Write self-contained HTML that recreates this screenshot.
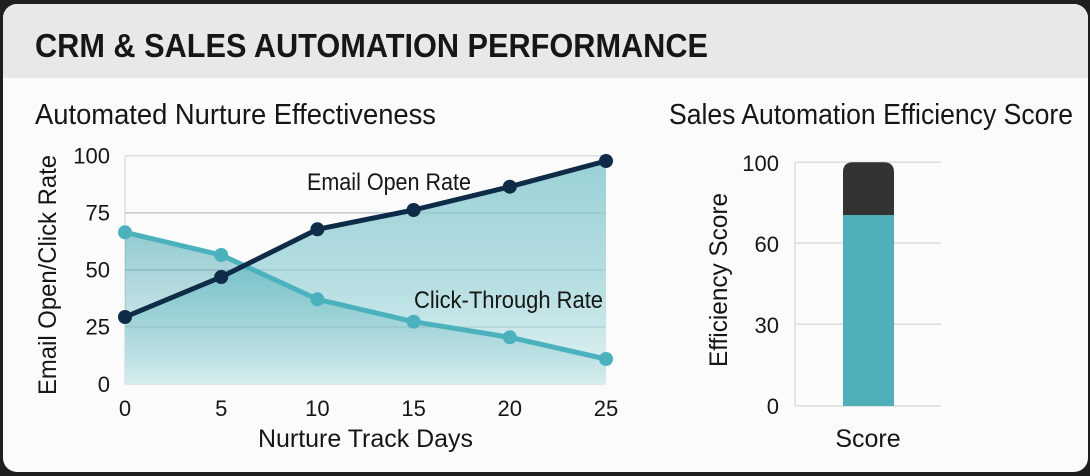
<!DOCTYPE html>
<html>
<head>
<meta charset="utf-8">
<style>
  html,body{margin:0;padding:0;background:#1f1f1f;}
  body{width:1090px;height:476px;overflow:hidden;}
  svg{display:block;}
  text{font-family:"Liberation Sans",Arial,sans-serif;fill:#161616;}
</style>
</head>
<body>
<svg width="1090" height="476" viewBox="0 0 1090 476" xmlns="http://www.w3.org/2000/svg">
  <defs>
    <linearGradient id="gOpen" gradientUnits="userSpaceOnUse" x1="0" y1="155" x2="0" y2="384">
      <stop offset="0" stop-color="#98d0d5"/>
      <stop offset="0.6" stop-color="#b9e0e3"/>
      <stop offset="1" stop-color="#e3f3f4"/>
    </linearGradient>
    <linearGradient id="gCtr" gradientUnits="userSpaceOnUse" x1="0" y1="230" x2="0" y2="384">
      <stop offset="0" stop-color="#3aa3ae" stop-opacity="0.55"/>
      <stop offset="1" stop-color="#3aa3ae" stop-opacity="0.08"/>
    </linearGradient>
    <clipPath id="cardClip">
      <rect x="3" y="4" width="1085" height="468" rx="14" ry="14"/>
    </clipPath>
  </defs>

  <!-- card -->
  <rect x="3" y="4" width="1085" height="468" rx="14" ry="14" fill="#fbfbfb"/>
  <g clip-path="url(#cardClip)">
    <rect x="3" y="4" width="1085" height="74" fill="#e8e8e9"/>
  </g>

  <!-- title -->
  <text x="35" y="57" font-size="33" font-weight="bold" textLength="673" lengthAdjust="spacingAndGlyphs">CRM &amp; SALES AUTOMATION PERFORMANCE</text>

  <!-- subtitles -->
  <text x="35" y="124" font-size="29" textLength="401" lengthAdjust="spacingAndGlyphs">Automated Nurture Effectiveness</text>
  <text x="669" y="124" font-size="29" textLength="404" lengthAdjust="spacingAndGlyphs">Sales Automation Efficiency Score</text>

  <!-- ===== Left chart ===== -->
  <!-- gridlines (under fill) -->
  <g stroke="#dedede" stroke-width="1.5">
    <line x1="125" y1="155.7" x2="606" y2="155.7"/>
    <line x1="125" y1="212.9" x2="606" y2="212.9"/>
    <line x1="125" y1="270" x2="606" y2="270"/>
    <line x1="125" y1="327" x2="606" y2="327"/>
    <line x1="125" y1="384" x2="606" y2="384"/>
    <line x1="125" y1="155.7" x2="125" y2="384"/>
  </g>

  <!-- fills -->
  <polygon fill="url(#gOpen)" points="125,317 221.2,277 317.4,229.3 413.6,210 509.8,186.7 606,161 606,384 125,384"/>
  <polygon fill="url(#gCtr)" points="125,232.3 221.2,255 317.4,299.3 413.6,321.7 509.8,337.3 606,359 606,384 125,384"/>

  <!-- gridlines over fill -->
  <g stroke="#7fa3a8" stroke-opacity="0.3" stroke-width="1.5">
    <line x1="125" y1="212.9" x2="606" y2="212.9"/>
    <line x1="125" y1="270" x2="606" y2="270"/>
    <line x1="125" y1="327" x2="606" y2="327"/>
  </g>

  <!-- CTR line -->
  <polyline fill="none" stroke="#4bb2bd" stroke-width="5" stroke-linejoin="round" points="125,232.3 221.2,255 317.4,299.3 413.6,321.7 509.8,337.3 606,359"/>
  <g fill="#4bb2bd">
    <circle cx="125" cy="232.3" r="7"/>
    <circle cx="221.2" cy="255" r="7"/>
    <circle cx="317.4" cy="299.3" r="7"/>
    <circle cx="413.6" cy="321.7" r="7"/>
    <circle cx="509.8" cy="337.3" r="7"/>
    <circle cx="606" cy="359" r="7"/>
  </g>

  <!-- Open rate line -->
  <polyline fill="none" stroke="#0e2c47" stroke-width="5" stroke-linejoin="round" points="125,317 221.2,277 317.4,229.3 413.6,210 509.8,186.7 606,161"/>
  <g fill="#0e2c47">
    <circle cx="125" cy="317" r="7"/>
    <circle cx="221.2" cy="277" r="7"/>
    <circle cx="317.4" cy="229.3" r="7"/>
    <circle cx="413.6" cy="210" r="7"/>
    <circle cx="509.8" cy="186.7" r="7"/>
    <circle cx="606" cy="161" r="7"/>
  </g>

  <!-- annotations -->
  <text x="307" y="190" font-size="24" textLength="164" lengthAdjust="spacingAndGlyphs">Email Open Rate</text>
  <text x="414" y="308" font-size="24" textLength="189" lengthAdjust="spacingAndGlyphs">Click-Through Rate</text>

  <!-- y ticks -->
  <g font-size="22" text-anchor="end">
    <text x="110" y="163.5">100</text>
    <text x="110" y="220.5">75</text>
    <text x="110" y="277.5">50</text>
    <text x="110" y="334.5">25</text>
    <text x="110" y="392">0</text>
  </g>
  <!-- x ticks -->
  <g font-size="22" text-anchor="middle">
    <text x="125" y="416">0</text>
    <text x="221.2" y="416">5</text>
    <text x="317.4" y="416">10</text>
    <text x="413.6" y="416">15</text>
    <text x="509.8" y="416">20</text>
    <text x="606" y="416">25</text>
  </g>
  <text x="258" y="447" font-size="25" textLength="215" lengthAdjust="spacingAndGlyphs">Nurture Track Days</text>
  <text transform="translate(56,395) rotate(-90)" x="0" y="0" font-size="25" textLength="240" lengthAdjust="spacingAndGlyphs">Email Open/Click Rate</text>

  <!-- ===== Right chart ===== -->
  <g stroke="#dcdcdc" stroke-width="1.5">
    <line x1="795" y1="162.3" x2="941" y2="162.3"/>
    <line x1="795" y1="243" x2="941" y2="243"/>
    <line x1="795" y1="324.3" x2="941" y2="324.3"/>
    <line x1="795" y1="406" x2="941" y2="406"/>
    <line x1="795" y1="162.3" x2="795" y2="406"/>
  </g>
  <!-- bar -->
  <path d="M843,215 L843,172.3 Q843,162.3 853,162.3 L884,162.3 Q894,162.3 894,172.3 L894,215 Z" fill="#333333"/>
  <rect x="843" y="215" width="51" height="191" fill="#4fb0ba"/>

  <g font-size="22" text-anchor="end">
    <text x="779" y="171">100</text>
    <text x="779" y="252">60</text>
    <text x="779" y="333">30</text>
    <text x="779" y="414">0</text>
  </g>
  <text x="868" y="447" font-size="25" text-anchor="middle">Score</text>
  <text transform="translate(727,367) rotate(-90)" x="0" y="0" font-size="25" textLength="174" lengthAdjust="spacingAndGlyphs">Efficiency Score</text>
</svg>
</body>
</html>
